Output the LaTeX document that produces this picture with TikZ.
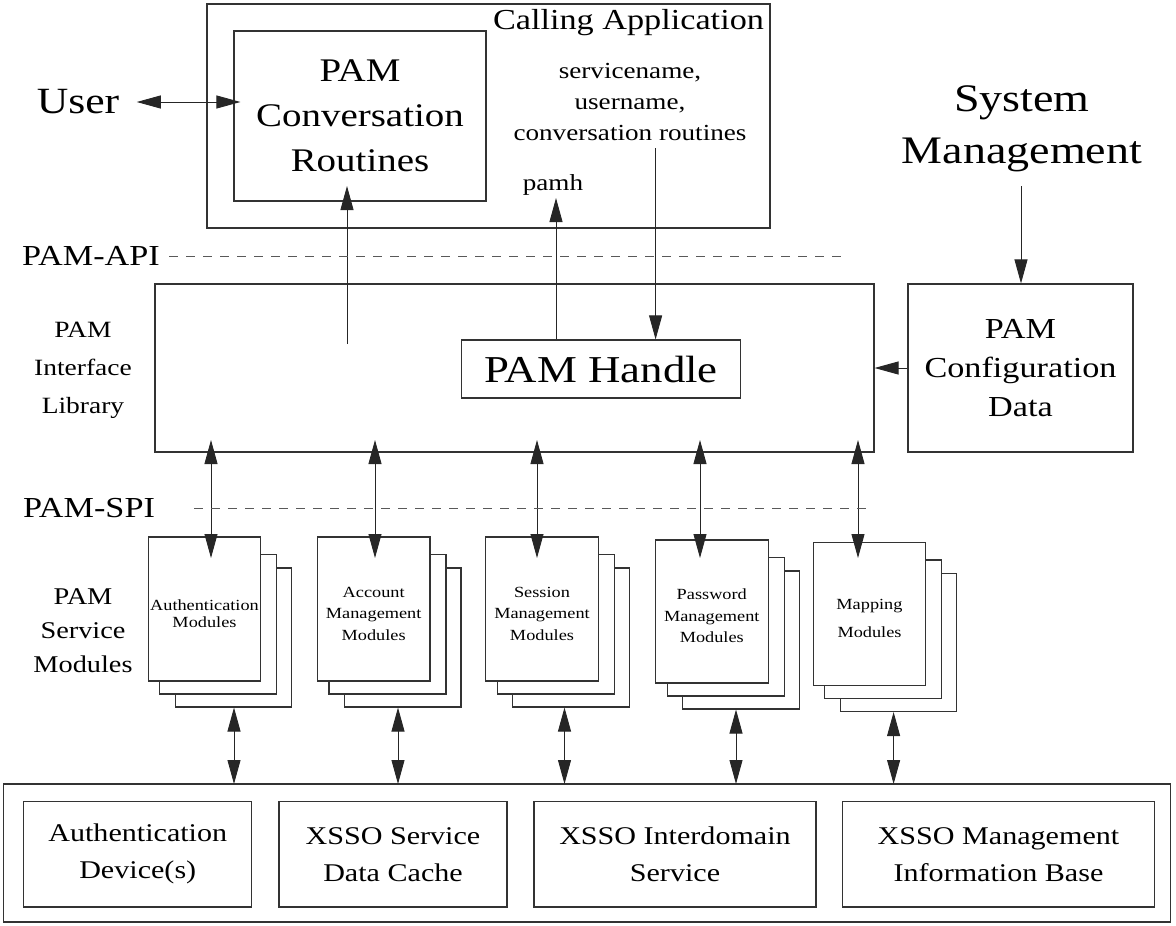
\documentclass[tikz,border=0pt]{standalone}
\usepackage{fontspec}
\setmainfont{Liberation Serif}[FakeStretch=1.18]
\usetikzlibrary{arrows.meta,calc}
\newcommand{\fs}[2]{\fontsize{#1}{#2}\selectfont}
\tikzset{
  box/.style={draw=black!80, line width=1.1pt, inner sep=0pt},
  arr/.style={-{Triangle[length=24pt,width=13pt]}, line width=0.9pt, draw=black!85},
  dblarr/.style={{Triangle[length=24pt,width=13pt]}-{Triangle[length=24pt,width=13pt]}, line width=0.9pt, draw=black!85},
  apiline/.style={draw=black!65, line width=0.9pt, dash pattern=on 9pt off 8pt},
}
\begin{document}
\begin{tikzpicture}[x=1pt,y=-1pt]
\useasboundingbox (0,0) rectangle (1176,926);
% calling application
\node[box, minimum width=563, minimum height=224] (app) at (488.5,116) {};
\node[box, minimum width=252, minimum height=170, align=center, font=\fs{33}{45}] (conv) at (360,116) {PAM\\Conversation\\Routines};
\node[font=\fs{29}{34}] (callapp) at (628.5,23) {Calling Application};
\node[align=center, font=\fs{23}{31}] (svc) at (630,102) {servicename,\\username,\\conversation routines};
\node[font=\fs{23}{28}] (pamh) at (553,185) {pamh};
\node[font=\fs{37}{44}] (user) at (78,102) {User};
% interface library
\node[box, minimum width=719, minimum height=168] (lib) at (514.5,368) {};
\node[box, minimum width=279.5, minimum height=58, font=\fs{38}{44}] (handle) at (601,369) {PAM Handle};
\node[align=center, font=\fs{23.3}{38}] (libtxt) at (83,370) {PAM\\Interface\\Library};
\node[font=\fs{29}{34}] (api) at (91,256) {PAM-API};
\node[font=\fs{29}{34}] (spi) at (89,508) {PAM-SPI};
% system management
\node[align=center, font=\fs{39}{52}] (sys) at (1022,129) {System\\Management};
\node[box, minimum width=225, minimum height=168, align=center, font=\fs{29}{39}] (config) at (1020.5,368) {PAM\\Configuration\\Data};
% service modules
\node[align=center, font=\fs{24}{34}] (modtxt) at (83,631) {PAM\\Service\\Modules};
\node[box, minimum width=1167, minimum height=138] (store) at (587.4,853) {};
\foreach \n/\cx/\cy/\h/\ax/\bx/\lbl in {
    auth/204.5/609/144/211/234/{Authentication\\[-4.5pt]Modules},
    acct/373.7/609/144/375/398/{Account\\Management\\Modules},
    sess/542/609/144/537/564.5/{Session\\Management\\Modules},
    pass/711.8/611.5/143/700/736/{Password\\Management\\Modules},
    map/869.5/614/143/858/893.6/{Mapping\\[6.5pt]Modules}}{
  \node[box, fill=white, minimum width=116.5, minimum height=\h-5] (\n-c) at ({\cx+29},{\cy+28.5}) {};
  \node[box, fill=white, minimum width=117, minimum height=\h-4.5] (\n-b) at ({\cx+13.75},{\cy+15.25}) {};
  \node[box, fill=white, minimum width=112.5, minimum height=\h] (\n) at (\cx,\cy) {};
  \node[align=center, font=\fs{15.5}{21.5}] (\n-t) at ({\cx},{\cy+4.5}) {\lbl};
  \coordinate (\n-up) at (\ax,440);
  \coordinate (\n-dn) at (\ax,558);
  \draw[dblarr] (\n-up) -- (\n-dn);
  \coordinate (\n-lo) at (\bx,784);
  \draw[dblarr] (\n-lo |- \n-c.south) -- (\n-lo);
}
% bottom services
\node[box, minimum width=228, minimum height=105.3, align=center, font=\fs{25.5}{37}] (dev) at (137.75,854.35) {Authentication\\Device(s)};
\node[box, minimum width=228, minimum height=105.3, align=center, font=\fs{25.5}{37}] (cache) at (393,854.35) {XSSO Service\\Data Cache};
\node[box, minimum width=282, minimum height=105.3, align=center, font=\fs{25.5}{37}] (inter) at (675,854.35) {XSSO Interdomain\\Service};
\node[box, minimum width=312, minimum height=105.3, align=center, font=\fs{25.5}{37}] (mib) at (998.5,854.35) {XSSO Management\\Information Base};
% connectors
\draw[dblarr] ([xshift=14pt]user.east) -- ([xshift=7pt]user.east -| conv.west);
\coordinate (cv) at (347,344);
\coordinate (cvtip) at (347,186);
\draw[arr] (cv) -- (cvtip);
\coordinate (ph) at (556,198);
\draw[arr] (ph |- handle.north) -- (ph);
\coordinate (sv) at (655.6,148);
\draw[arr] (sv) -- (sv |- handle.north);
\coordinate (sm) at (1021,186);
\draw[arr] (sm) -- (sm |- config.north);
\draw[arr] (config.west) -- (lib.east);
\coordinate (apiend) at (847,256);
\draw[apiline] ([xshift=6pt]api.east) -- (apiend);
\coordinate (spiend) at (870,508);
\draw[apiline] ([xshift=36pt]spi.east) -- (spiend);
\end{tikzpicture}
\end{document}
